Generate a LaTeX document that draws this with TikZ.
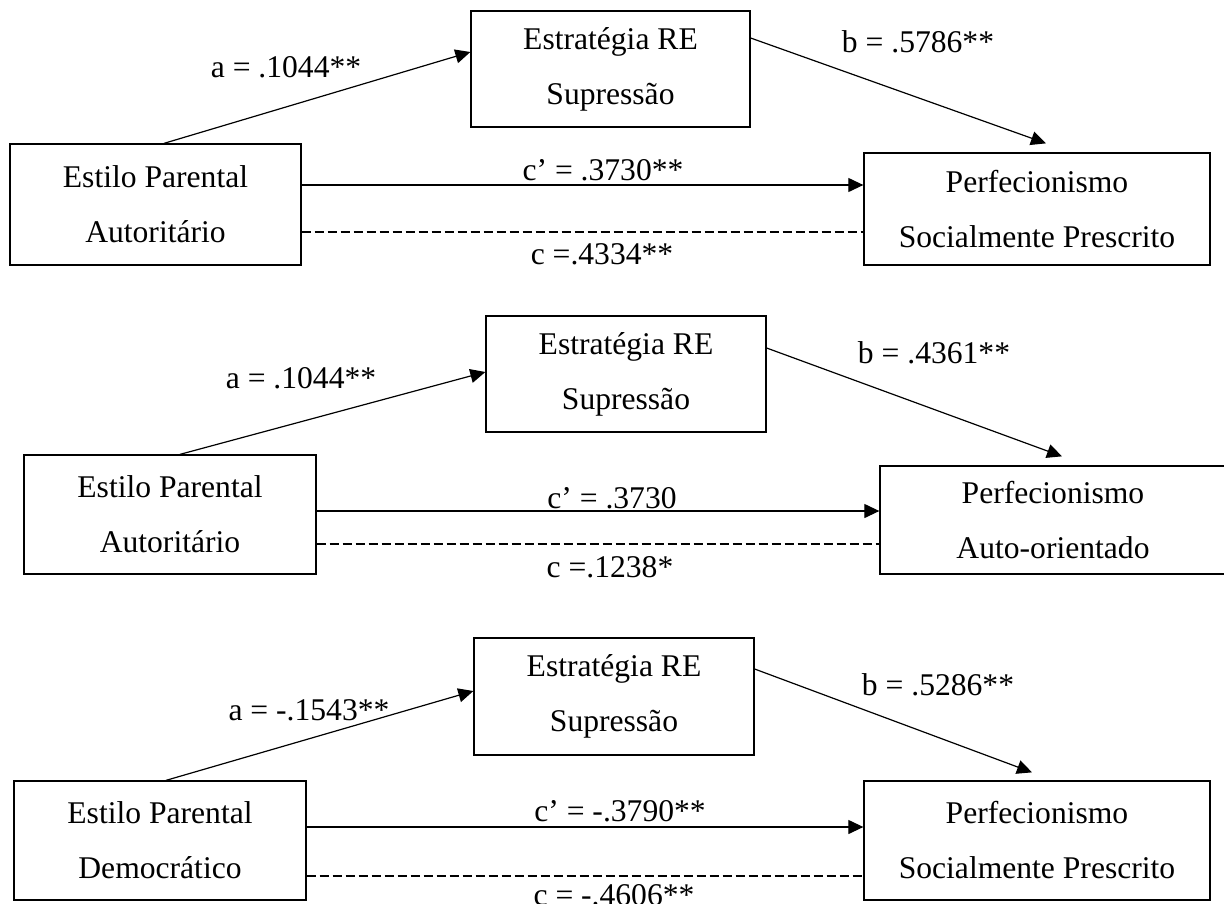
\documentclass[tikz,border=0pt]{standalone}
\usepackage{fontspec}
\setmainfont{Liberation Serif}
\usetikzlibrary{arrows.meta}
\tikzset{
x=1pt, y=-1pt, % one unit per pixel of the figure, y going down
>={Triangle[length=15pt, width=14pt]}, % filled arrow heads
every node/.style={font=\fontsize{31.6}{55}\selectfont}, % Times-like text, double spaced
var/.style={draw, line width=1.3pt, align=center, inner sep=0pt}, % the variable boxes
link/.style={->, line width=1.2pt}, % direct and indirect paths
total/.style={line width=1.2pt, dash pattern=on 9pt off 4pt}, % total effect
coef/.style={anchor=base, inner sep=0pt}, % path coefficients
}
\begin{document}
\begin{tikzpicture}
    \path[use as bounding box, clip] (0,0) rectangle (1224,903);
    % first model
    \node[var, minimum width=279pt, minimum height=116pt] (st1) at (610.5,69) {Estratégia RE\\Supressão};
    \node[var, minimum width=291pt, minimum height=121pt] (ep1) at (155.5,204.5) {Estilo Parental\\Autoritário};
    \node[var, minimum width=346pt, minimum height=112pt] (pf1) at (1037,209) {Perfecionismo\\Socialmente Prescrito};
    \node[coef] (a1) at (286,77) {a = .1044**};
    \node[coef] (b1) at (918,52) {b = .5786**};
    \node[coef] (cp1) at (603,180) {c’ = .3730**};
    \node[coef] (c1) at (602,264) {c =.4334**};
    \draw
    ([xshift=8.5pt]ep1.north) edge[link] ([yshift=17pt]st1.west)
    ([yshift=31pt]st1.east) edge[link] ([xshift=9pt, yshift=9pt]pf1.north)
    ([yshift=19.5pt]ep1.east) edge[link] ([yshift=24pt]pf1.west)
    ([yshift=-27.5pt]ep1.east) edge[total] ([yshift=-23pt]pf1.west);
    % second model
    \node[var, minimum width=280pt, minimum height=116pt] (st2) at (626,374) {Estratégia RE\\Supressão};
    \node[var, minimum width=292pt, minimum height=119pt] (ep2) at (170,514.5) {Estilo Parental\\Autoritário};
    \node[var, minimum width=346pt, minimum height=108pt] (pf2) at (1053,520) {Perfecionismo\\Auto-orientado};
    \node[coef] (a2) at (301,388) {a = .1044**};
    \node[coef] (b2) at (934,363) {b = .4361**};
    \node[coef] (cp2) at (612,508) {c’ = .3730};
    \node[coef] (c2) at (610,577) {c =.1238*};
    \draw
    ([xshift=10pt]ep2.north) edge[link] ([yshift=2pt]st2.west)
    ([yshift=26pt]st2.east) edge[link] ([xshift=9pt, yshift=9pt]pf2.north)
    ([yshift=3.5pt]ep2.east) edge[link] ([yshift=9pt]pf2.west)
    ([yshift=-29.5pt]ep2.east) edge[total] ([yshift=-24pt]pf2.west);
    % third model
    \node[var, minimum width=280pt, minimum height=117pt] (st3) at (614,696.5) {Estratégia RE\\Supressão};
    \node[var, minimum width=292pt, minimum height=119pt] (ep3) at (160,840.5) {Estilo Parental\\Democrático};
    \node[var, minimum width=346pt, minimum height=119pt] (pf3) at (1037,840.5) {Perfecionismo\\Socialmente Prescrito};
    \node[coef] (a3) at (309,720) {a = -.1543**};
    \node[coef] (b3) at (938,695) {b = .5286**};
    \node[coef] (cp3) at (620,821) {c’ = -.3790**};
    \node[coef] (c3) at (614,905) {c = -.4606**};
    \draw
    ([xshift=6pt]ep3.north) edge[link] ([yshift=5.5pt]st3.west)
    ([yshift=27.5pt]st3.east) edge[link] ([xshift=-5pt, yshift=8pt]pf3.north)
    ([yshift=13.5pt]ep3.east) edge[link] ([yshift=13.5pt]pf3.west)
    ([yshift=-35.5pt]ep3.east) edge[total] ([yshift=-35.5pt]pf3.west);
\end{tikzpicture}
\end{document}
